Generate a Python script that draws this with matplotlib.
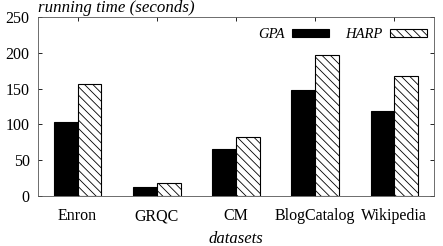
import numpy as np
import matplotlib
matplotlib.use("Agg")
import matplotlib.pyplot as plt

datasets = ["Enron", "GRQC", "CM", "BlogCatalog", "Wikipedia"]
gpa = [104, 13, 66, 148, 119]
harp = [156, 18, 83, 197, 168]

plt.rcParams['font.family'] = ['Liberation Serif', 'DejaVu Serif']
plt.rcParams['hatch.linewidth'] = 0.6

fig = plt.figure(figsize=(4.43, 2.46), dpi=100)
ax = fig.add_axes([38 / 443, 50 / 246, 396 / 443, 179 / 246])

x = np.arange(len(datasets))
w = 0.3
ax.bar(x - w / 2, gpa, w, color='black', edgecolor='black', linewidth=0.8, label='GPA')
ax.bar(x + w / 2, harp, w, color='white', edgecolor='black', linewidth=0.8,
       hatch='\\\\\\\\', label='HARP')

ax.set_xlim(-0.5, 4.5)
ax.set_ylim(0, 250)
ax.set_yticks([0, 50, 100, 150, 200, 250])
ax.set_xticks(x)
ax.set_xticklabels(datasets)
ax.tick_params(direction='in', top=True, right=True, labelsize=11.5, length=3, width=0.6)
ax.tick_params(axis='x', pad=9)
ax.tick_params(axis='y', pad=6)
for s in ax.spines.values():
    s.set_linewidth(0.6)
    s.set_color('#555555')

ax.set_xlabel('datasets', fontstyle='italic', fontsize=12, labelpad=5)
ax.text(0.0, 1.005, 'running time (seconds)', transform=ax.transAxes,
        fontstyle='italic', fontsize=12.2, ha='left', va='bottom')

leg = ax.legend(loc='upper right', bbox_to_anchor=(1.0, 0.98), ncol=2, frameon=False,
                markerfirst=False, prop={'style': 'italic', 'size': 10.5},
                handlelength=2.5, handleheight=0.45,
                columnspacing=1.1, handletextpad=0.55, borderaxespad=0.1)

fig.savefig('out.png', dpi=100)
